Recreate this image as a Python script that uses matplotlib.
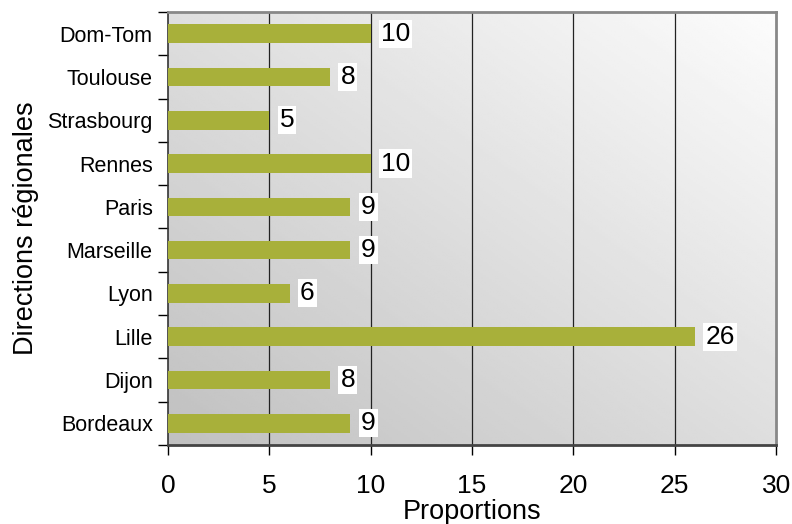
import numpy as np
import matplotlib.pyplot as plt

# données
regions = ['Bordeaux', 'Dijon', 'Lille', 'Lyon', 'Marseille', 'Paris',
           'Rennes', 'Strasbourg', 'Toulouse', 'Dom-Tom']
proportions = [9, 8, 26, 6, 9, 9, 10, 5, 8, 10]
x_ticks = [0, 5, 10, 15, 20, 25, 30]

plt.rcParams['font.family'] = ['Liberation Sans', 'DejaVu Sans']

fig = plt.figure(figsize=(7.92, 5.24), dpi=100)
ax = fig.add_axes([0.212, 0.151, 0.768, 0.826])

n = len(regions)
y = np.arange(n)

# fond en dégradé (plus sombre en bas à gauche)
gx, gy = np.meshgrid(np.linspace(0, 1, 200), np.linspace(0, 1, 200))
t = (gx + gy) / 2
ax.imshow(t, extent=[0, 30, -0.5, n - 0.5], origin='lower', cmap='gray',
          vmin=-3.2, vmax=1.05, aspect='auto', zorder=0)

ax.barh(y, proportions, height=0.43, color='#a8b03a', zorder=3)

for yi, v in zip(y, proportions):
    ax.annotate(str(v), (v, yi), xytext=(7.5, 0), textcoords='offset points',
                va='center', ha='left', fontsize=19, zorder=4,
                bbox=dict(boxstyle='square,pad=0.08', fc='white', ec='none'))

ax.set_xlim(0, 30)
ax.set_ylim(-0.5, n - 0.5)
ax.set_xticks(x_ticks)
ax.tick_params(axis='x', labelsize=19, length=7, width=1, pad=14, direction='out')
ax.set_yticks(y)
ax.set_yticklabels(regions, fontsize=15.5)
ax.set_yticks(np.arange(-0.5, n, 1), minor=True)
ax.tick_params(axis='y', which='major', length=0, pad=11)
ax.tick_params(axis='y', which='minor', length=7, width=1, direction='out')

for xv in x_ticks[1:-1]:
    ax.axvline(xv, color='#222222', lw=0.9, zorder=2)

ax.spines['left'].set_color('#333333')
ax.spines['left'].set_linewidth(1.2)
ax.spines['bottom'].set_color('#444444')
ax.spines['bottom'].set_linewidth(2)
ax.spines['top'].set_color('#888888')
ax.spines['top'].set_linewidth(2)
ax.spines['right'].set_color('#888888')
ax.spines['right'].set_linewidth(2)

ax.set_xlabel('Proportions', fontsize=19.5, labelpad=0.5)
ax.set_ylabel('Directions régionales', fontsize=19.5, labelpad=6)

fig.savefig('out.png', dpi=100)
